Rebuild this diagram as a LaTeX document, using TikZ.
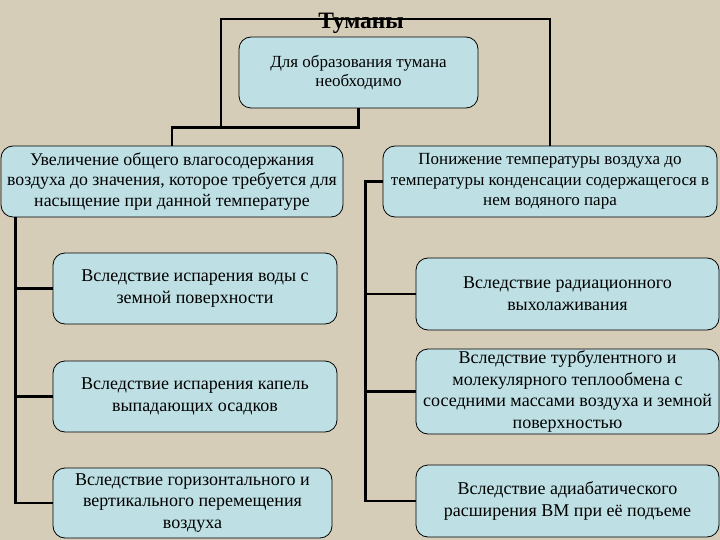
\documentclass[tikz,border=0pt]{standalone}
\usepackage{fontspec}
\setmainfont{Liberation Serif}
\definecolor{bg}{RGB}{214,205,184}
\definecolor{boxfill}{RGB}{190,224,228}
\begin{document}
\begin{tikzpicture}[x=1pt,y=-1pt,
  box/.style={draw=black, line width=0.8pt, fill=boxfill, rounded corners=12pt, align=center, inner sep=0pt},
  childtxt/.style={font=\fontsize{18}{21.8}\selectfont},
  maintxt/.style={font=\fontsize{17.8}{20.5}\selectfont},
  maintxtr/.style={font=\fontsize{17}{20.5}\selectfont},
  toptxt/.style={font=\fontsize{17}{18.5}\selectfont},
  conn/.style={line width=2.6pt}]
\fill[bg] (0,0) rectangle (720,540);
\useasboundingbox (0,0) rectangle (720,540);
% nodes
\node[box, toptxt, minimum width=239pt, minimum height=71pt] (top) at (358.5,72.5) {Для образования тумана\\необходимо};
\node[box, maintxt, minimum width=342pt, minimum height=71pt] (lm) at (172,181.5) {Увеличение общего влагосодержания\\воздуха до значения, которое требуется для\\насыщение при данной температуре};
\node[box, maintxtr, minimum width=334pt, minimum height=71pt] (rm) at (550,181.5) {Понижение температуры воздуха до\\температуры конденсации содержащегося в\\нем водяного пара};
\node[box, childtxt, minimum width=284pt, minimum height=71pt] (l1) at (195,288.5) {Вследствие испарения воды с\\земной поверхности};
\node[box, childtxt, minimum width=284pt, minimum height=71pt] (l2) at (195,396.5) {Вследствие испарения капель\\выпадающих осадков};
\node[box, childtxt, minimum width=279pt, minimum height=70pt] (l3) at (192.5,503) {Вследствие горизонтального и\\вертикального перемещения\\воздуха};
\node[box, childtxt, minimum width=303pt, minimum height=72pt] (r1) at (567.5,294) {Вследствие радиационного\\выхолаживания};
\node[box, childtxt, minimum width=303pt, minimum height=85pt] (r2) at (567.5,391.5) {Вследствие турбулентного и\\молекулярного теплообмена с\\соседними массами воздуха и земной\\поверхностью};
\node[box, childtxt, minimum width=303pt, minimum height=72pt] (r3) at (567.5,501) {Вследствие адиабатического\\расширения ВМ при её подъеме};
% connectors
\coordinate (j1) at (221,127);
\coordinate (j2) at (221,19);
\draw[conn] (top.south) -- ++(0,19) -| (lm.north);
\draw[conn] (j1) -- (j2) -| (rm.north);
\coordinate (lb) at ([xshift=15pt]lm.south west);
\draw[conn] (lb) |- (l1.west);
\draw[conn] (lb) |- (l2.west);
\draw[conn] (lb) |- (l3.west);
\coordinate (rb) at ([xshift=-17pt]rm.west);
\draw[conn] (rm.west) -- (rb) |- (r3.west);
\draw[conn] (rb) |- (r1.west);
\draw[conn] (rb) |- (r2.west);
\node[font=\bfseries\fontsize{23.5}{26}\selectfont] (title) at (361,23) {Туманы};
\end{tikzpicture}
\end{document}
